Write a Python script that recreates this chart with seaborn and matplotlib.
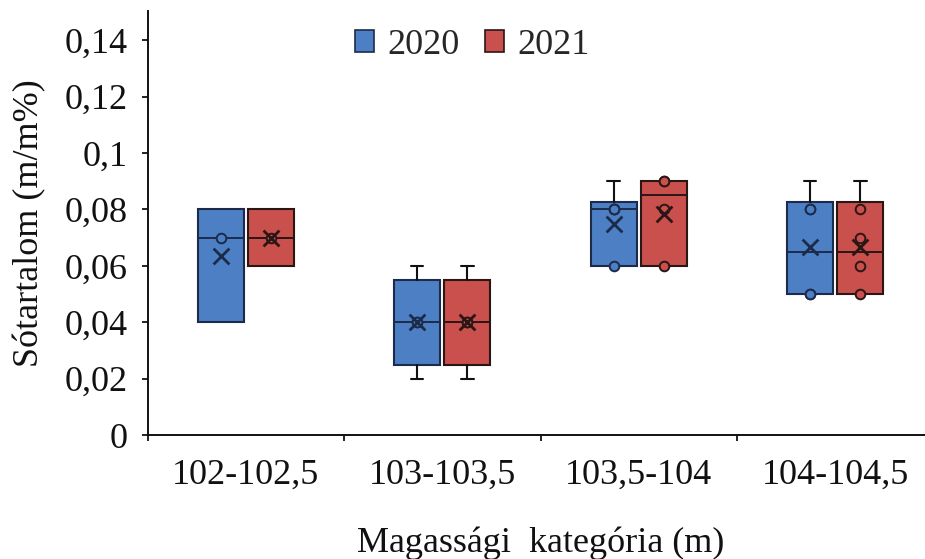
import numpy as np
import pandas as pd
import matplotlib
matplotlib.use("Agg")
import matplotlib.pyplot as plt
import seaborn as sns
from matplotlib.patches import Patch

# Salt content samples per elevation class and year
categories = ["102-102,5", "103-103,5", "103,5-104", "104-104,5"]
years = ["2020", "2021"]
values_2020 = [
    [0.04, 0.07, 0.08],
    [0.02, 0.04, 0.04, 0.06],
    [0.06, 0.06, 0.08, 0.08, 0.08, 0.09],
    [0.05, 0.05, 0.05, 0.08, 0.08, 0.09],
]
values_2021 = [
    [0.06, 0.07, 0.08],
    [0.02, 0.04, 0.04, 0.06],
    [0.06, 0.06, 0.08, 0.09, 0.09, 0.09],
    [0.05, 0.05, 0.06, 0.07, 0.08, 0.09],
]
y_ticks = [0, 0.02, 0.04, 0.06, 0.08, 0.10, 0.12, 0.14]
y_tick_labels = ["0", "0,02", "0,04", "0,06", "0,08", "0,1", "0,12", "0,14"]

sns.set_theme(style="white")
plt.rcParams["font.family"] = "serif"
plt.rcParams["font.serif"] = ["Liberation Serif", "Times New Roman", "DejaVu Serif"]

FS = 26
fill = {"2020": "#4c7fc4", "2021": "#c9504c"}
edge = {"2020": "#1c2b4a", "2021": "#2b1616"}
offset = {"2020": -0.128, "2021": 0.128}
box_w = 0.234

rows = []
for year, series in zip(years, [values_2020, values_2021]):
    for ci, vals in enumerate(series):
        for v in vals:
            rows.append({"category": categories[ci], "code": ci, "year": year, "value": v})
df = pd.DataFrame(rows)
df["pos"] = df["code"] + df["year"].map(offset)

fig = plt.figure(figsize=(9.25, 5.59), dpi=100)
ax = fig.add_axes([147.5 / 925, 124 / 559, 786 / 925, 424 / 559])

# Boxes: quartiles with the exclusive (n+1) rule, whiskers to min / max
for (year, code), grp in df.groupby(["year", "code"]):
    vals = np.sort(grp["value"].to_numpy())
    q1, q3 = np.percentile(vals, [25, 75], method="weibull")
    stats = dict(med=np.median(vals), q1=q1, q3=q3,
                 whislo=vals.min(), whishi=vals.max(), fliers=[])
    art = ax.bxp([stats], positions=[code + offset[year]], widths=box_w,
                 patch_artist=True, showfliers=False, capwidths=[0.065],
                 boxprops=dict(facecolor=fill[year], edgecolor=edge[year], linewidth=1.5),
                 medianprops=dict(color=edge[year], linewidth=1.4),
                 whiskerprops=dict(color="#111111", linewidth=1.5),
                 capprops=dict(color="#111111", linewidth=1.5),
                 manage_ticks=False, zorder=2)
    # no whisker drawn where the box already reaches the extreme value
    if np.isclose(stats["whislo"], q1):
        art["caps"][0].set_visible(False)
        art["whiskers"][0].set_visible(False)
    if np.isclose(stats["whishi"], q3):
        art["caps"][1].set_visible(False)
        art["whiskers"][1].set_visible(False)

# Inner points (all but the extreme min and max of each box)
inner = (df.sort_values("value")
           .groupby(["year", "code"], group_keys=False)
           .apply(lambda g: g.iloc[1:-1]))
for year in years:
    sns.scatterplot(data=inner[inner["year"] == year], x="pos", y="value",
                    marker="o", s=48, color=fill[year], edgecolor=edge[year],
                    linewidth=1.4, ax=ax, legend=False, zorder=4)

# Mean markers
means = df.groupby(["year", "code"], as_index=False).agg(value=("value", "mean"), pos=("pos", "first"))
for year in years:
    sns.scatterplot(data=means[means["year"] == year], x="pos", y="value",
                    marker="x", s=130, color=edge[year], linewidth=2.0,
                    ax=ax, legend=False, zorder=5)

ax.set_xlim(-0.5, 3.5)
ax.set_ylim(0, 0.1504)
ax.set_yticks(y_ticks)
ax.set_yticklabels(y_tick_labels)
ax.set_xticks(range(len(categories)))
ax.set_xticklabels(categories)
ax.set_xticks([-0.5, 0.5, 1.5, 2.5, 3.5], minor=True)

for side in ["top", "right"]:
    ax.spines[side].set_visible(False)
for side in ["left", "bottom"]:
    ax.spines[side].set_color("#111111")
    ax.spines[side].set_linewidth(1.4)

ax.tick_params(axis="y", which="major", direction="out", length=4, width=1.3,
               color="#111111", pad=10.5, labelsize=FS, labelcolor="#111111", left=True)
ax.tick_params(axis="x", which="major", length=0, pad=17, labelsize=FS, labelcolor="#111111")
ax.tick_params(axis="x", which="minor", direction="out", length=4, width=1.3,
               color="#111111", bottom=True)

ax.set_xlabel("Magassági  kategória (m)", fontsize=FS, color="#111111")
ax.set_ylabel("Sótartalom (m/m%)", fontsize=FS, color="#111111")
ax.xaxis.set_label_coords(0.5, -(526 - 435) / 424)
ax.yaxis.set_label_coords((46 - 147.5) / 786, 0.5)

handles = [Patch(facecolor=fill[y], edgecolor=edge[y], linewidth=1.2) for y in years]
fig.legend(handles=handles, labels=years, loc="center",
           bbox_to_anchor=(472 / 925, 1 - 45 / 559), ncol=2, frameon=False,
           fontsize=FS, handlelength=0.55, handleheight=0.55,
           handletextpad=0.35, columnspacing=0.7)

fig.savefig("out.png", dpi=100)
